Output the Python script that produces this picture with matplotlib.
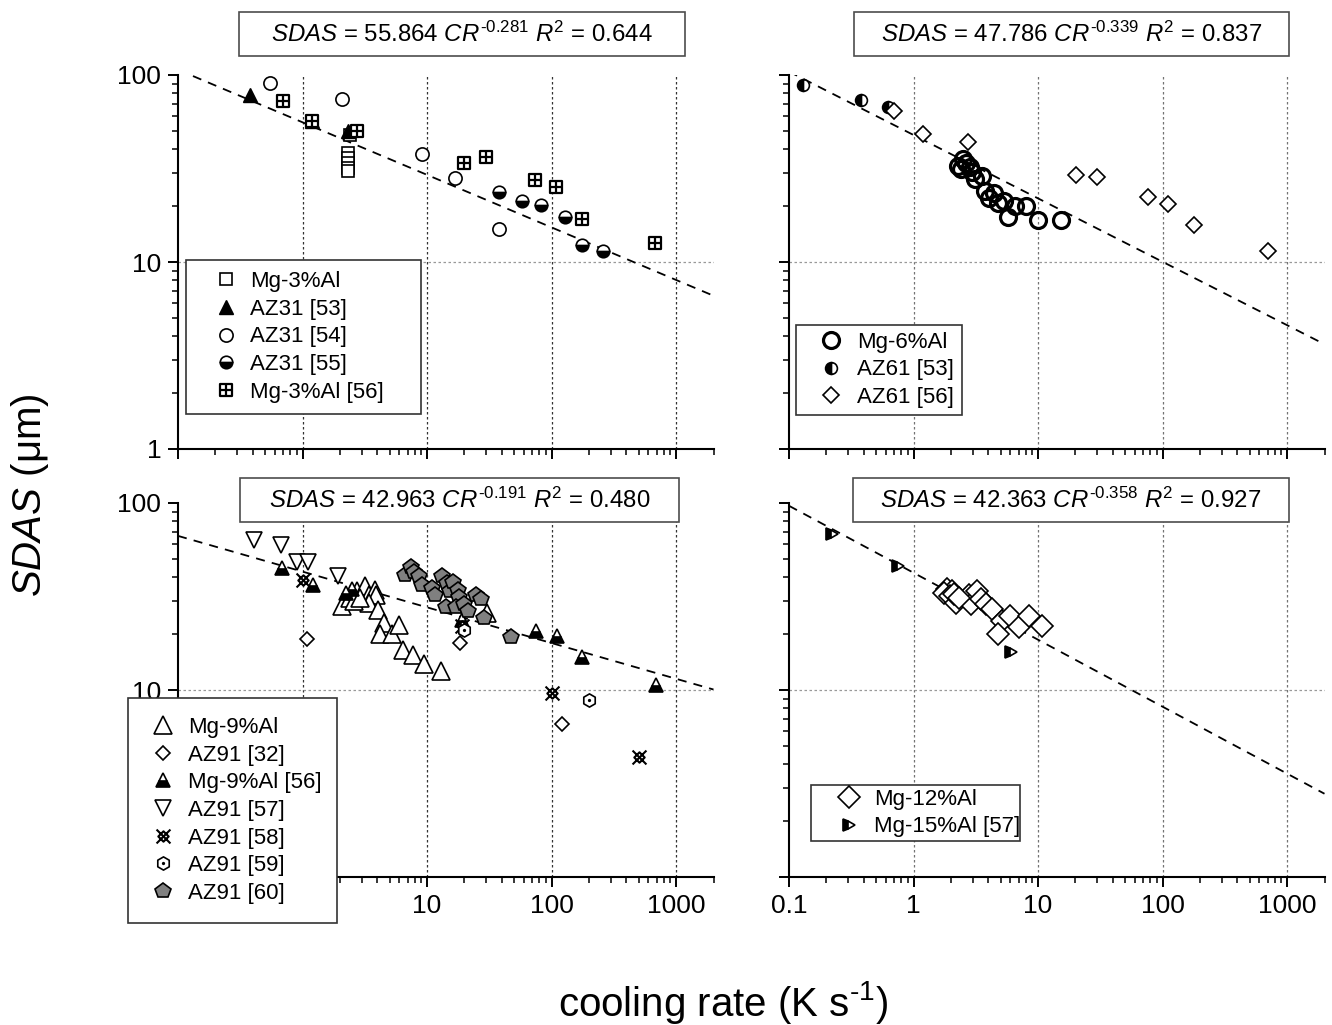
import matplotlib
matplotlib.use('Agg')
import numpy as np
import matplotlib.pyplot as plt
from matplotlib.path import Path
from matplotlib.patches import Rectangle
from matplotlib.ticker import FuncFormatter, NullFormatter, LogLocator

plt.rcParams['font.family'] = ['Liberation Sans', 'DejaVu Sans']
plt.rcParams['mathtext.fontset'] = 'custom'
plt.rcParams['mathtext.rm'] = 'Liberation Sans'
plt.rcParams['mathtext.it'] = 'Liberation Sans:italic'
plt.rcParams['mathtext.bf'] = 'Liberation Sans:bold'

# ---- Mg-3%Al group ----
mg3_cr = [2.39, 2.3, 2.3, 2.3, 2.3, 2.3]
mg3_sdas = [48.0, 38.5, 36.0, 34.0, 32.0, 30.5]
az31_53_cr = [0.38, 1.19, 2.30]
az31_53_sdas = [78.0, 56.5, 50.0]
az31_54_cr = [0.55, 2.06, 9.1, 16.7, 38.0]
az31_54_sdas = [91.0, 74.0, 38.0, 28.0, 15.0]
az31_55_cr = [38.0, 58.0, 82.0, 129.0, 175.0, 258.0]
az31_55_sdas = [23.8, 21.1, 20.1, 17.3, 12.3, 11.5]
mg3_56_cr = [0.70, 1.19, 2.75, 20.0, 30.0, 74.0, 109.0, 177.0, 680.0]
mg3_56_sdas = [72.6, 56.7, 50.2, 33.8, 36.5, 27.5, 25.1, 17.0, 12.7]

# ---- Mg-6%Al group ----
mg6_cr = [2.29, 2.40, 2.50, 2.64, 2.82, 2.97, 3.10, 3.53, 3.78, 4.03,
          4.44, 4.80, 5.29, 5.76, 6.48, 7.97, 10.0, 15.3]
mg6_sdas = [32.7, 31.5, 35.6, 33.8, 32.2, 30.2, 27.8, 28.7, 23.9, 22.0,
            23.4, 20.7, 21.1, 17.4, 19.9, 19.9, 16.7, 16.8]
az61_53_cr = [0.129, 0.379, 0.622]
az61_53_sdas = [88.8, 73.2, 67.2]
az61_56_cr = [0.695, 1.19, 2.74, 20.2, 29.9, 75.9, 111.0, 178.0, 703.0]
az61_56_sdas = [64.0, 48.5, 43.6, 29.3, 28.4, 22.3, 20.3, 15.8, 11.5]

# ---- Mg-9%Al group ----
mg9_cr = [2.07, 2.39, 2.75, 3.17, 3.40, 3.79, 3.92, 3.40, 4.06, 4.52,
          4.22, 5.21, 6.00, 6.44, 7.69, 9.51, 12.9, 30.6, 2.6, 2.9]
mg9_sdas = [28.2, 31.0, 33.7, 35.8, 32.3, 34.4, 32.3, 29.1, 26.8, 22.7,
            20.0, 19.9, 22.3, 16.3, 15.3, 13.8, 12.6, 25.9, 30.0, 31.0]
az91_32_cr = [1.08, 18.5, 122.0]
az91_32_sdas = [18.7, 17.8, 6.6]
mg9_56_cr = [0.69, 1.22, 2.23, 2.5, 19.2, 75.3, 111.0, 177.0, 692.0]
mg9_56_sdas = [45.0, 36.5, 33.0, 34.5, 23.6, 20.7, 19.4, 15.0, 10.6]
az91_57_cr = [0.41, 0.67, 0.90, 1.10, 1.93]
az91_57_sdas = [63.1, 59.6, 48.6, 48.6, 40.6]
az91_58_cr = [1.0, 19.0, 100.0, 503.0]
az91_58_sdas = [38.9, 22.0, 9.6, 4.4]
az91_59_cr = [19.8, 199.0]
az91_59_sdas = [21.0, 8.8]
az91_60_cr = [6.68, 7.43, 7.86, 8.55, 9.06, 11.0, 11.5, 13.1, 14.6, 15.3,
              16.2, 17.6, 18.0, 14.1, 17.1, 20.0, 21.5, 24.8, 27.0, 28.5, 46.9]
az91_60_sdas = [41.4, 45.5, 42.6, 40.6, 36.6, 35.1, 32.3, 40.6, 37.3, 33.7,
                37.7, 34.4, 31.6, 27.9, 27.9, 28.8, 26.6, 32.3, 30.6, 24.2, 19.2]

# ---- Mg-12%Al / Mg-15%Al group ----
mg12_cr = [1.86, 2.04, 1.76, 1.98, 2.21, 2.78, 2.87, 3.21, 3.49, 3.85,
           4.25, 5.17, 6.00, 7.02, 8.53, 10.8, 4.75, 2.1, 2.3]
mg12_sdas = [34.5, 33.7, 33.1, 31.7, 29.2, 32.4, 29.0, 33.7, 30.7, 29.0,
             27.1, 23.3, 24.8, 21.6, 24.9, 22.0, 20.0, 32.5, 31.0]
mg15_57_cr = [0.222, 0.756, 6.08]
mg15_57_sdas = [67.9, 46.2, 15.9]

# power-law fits SDAS = a * CR^b
fit_a = [55.864, 47.786, 42.963, 42.363]
fit_b = [-0.281, -0.339, -0.191, -0.358]
fit_r2 = [0.644, 0.837, 0.480, 0.927]

# custom markers
sq_plus = Path([(-1, -1), (1, -1), (1, 1), (-1, 1), (-1, -1),
                (0, -1), (0, 1), (-1, 0), (1, 0)],
               [Path.MOVETO, Path.LINETO, Path.LINETO, Path.LINETO, Path.CLOSEPOLY,
                Path.MOVETO, Path.LINETO, Path.MOVETO, Path.LINETO])
x_diamond = Path([(0, 0.75), (0.75, 0), (0, -0.75), (-0.75, 0), (0, 0.75),
                  (-1, -1), (1, 1), (-1, 1), (1, -1)],
                 [Path.MOVETO, Path.LINETO, Path.LINETO, Path.LINETO, Path.CLOSEPOLY,
                  Path.MOVETO, Path.LINETO, Path.MOVETO, Path.LINETO])
hex_v = [(np.cos(np.pi / 2 + k * np.pi / 3), np.sin(np.pi / 2 + k * np.pi / 3)) for k in range(6)]
hex_dot = Path.make_compound_path(
    Path(hex_v + [hex_v[0]], [Path.MOVETO] + [Path.LINETO] * 5 + [Path.CLOSEPOLY]),
    Path.circle((0, 0), 0.12))

W, H = 1332, 1025
fig = plt.figure(figsize=(W / 100, H / 100), dpi=100)


def px_rect(x0, y0, x1, y1):
    return [x0 / W, 1 - y1 / H, (x1 - x0) / W, (y1 - y0) / H]


def setup(ax, xlab, ylab, vgrid):
    ax.set_xscale('log')
    ax.set_yscale('log')
    ax.set_xlim(0.1, 2000)
    ax.set_ylim(1, 100)
    for s in ['top', 'right']:
        ax.spines[s].set_visible(False)
    for s in ['left', 'bottom']:
        ax.spines[s].set_linewidth(1.5)
    for axis in [ax.xaxis, ax.yaxis]:
        axis.set_major_locator(LogLocator(base=10, numticks=10))
        axis.set_minor_locator(LogLocator(base=10, subs=np.arange(2, 10), numticks=30))
        axis.set_major_formatter(FuncFormatter(lambda v, p: '%g' % v))
        axis.set_minor_formatter(NullFormatter())
    ax.tick_params(which='major', direction='out', length=7, width=1.4, labelsize=19, pad=5)
    ax.tick_params(which='minor', direction='out', length=4, width=1.1)
    ax.tick_params(labelbottom=xlab, labelleft=ylab)
    for v in [1, 10, 100, 1000]:
        ax.axvline(v, color=vgrid, ls=(0, (2, 2)), lw=0.9, zorder=0)
    ax.axhline(10, color='0.6', ls=(0, (2, 2)), lw=0.9, zorder=0)


def fit_line(ax, a, b):
    cr = np.logspace(-1, np.log10(2000), 200)
    ax.plot(cr, a * cr ** b, color='k', ls=(0, (5, 4)), lw=1.3, zorder=1)


def eq_box(x0, y0, x1, y1, a, b, r2):
    fig.add_artist(Rectangle((x0 / W, 1 - y1 / H), (x1 - x0) / W, (y1 - y0) / H,
                             transform=fig.transFigure, fc='white', ec='0.3', lw=1.2, zorder=4))
    expo = ('%.3f' % b).replace('-', '\u2010')
    txt = r'$\mathit{SDAS}$ = %.3f $\mathit{CR}^{%s}$ $\mathit{R}^{2}$ = %.3f' % (a, expo, r2)
    fig.text((x0 + x1) / 2 / W, 1 - (y0 + y1) / 2 / H, txt, ha='center', va='center',
             fontsize=17.3, zorder=5)


def add_legend(ax, x0, y0, x1, marker_x, text_x, bp, fs=16):
    fpx = fs * 100 / 72
    pad = bp * fpx
    hl = 2 * (marker_x - x0 - pad)
    htp = text_x - (x0 + pad + hl)
    leg = ax.legend(loc='upper left', bbox_to_anchor=((x0) / W, 1 - y0 / H - 0.01, (x1 - x0) / W, 0.01),
                    bbox_transform=fig.transFigure, mode='expand', borderaxespad=0,
                    fontsize=fs, fancybox=False, edgecolor='0.2', framealpha=1,
                    handlelength=hl / fpx, handletextpad=htp / fpx, borderpad=bp,
                    labelspacing=0.3, numpoints=1)
    leg.get_frame().set_linewidth(1.2)
    leg.set_zorder(6)
    return leg


open_kw = dict(ls='none', mfc='white', mec='k', mew=1.2)

# top left: Mg-3%Al
ax1 = fig.add_axes(px_rect(178, 75, 713.5, 449))
setup(ax1, False, True, '0.2')
fit_line(ax1, fit_a[0], fit_b[0])
ax1.plot(mg3_cr, mg3_sdas, marker='s', ms=8.5, label='Mg-3%Al', **open_kw)
ax1.plot(az31_53_cr, az31_53_sdas, marker='^', ms=10, ls='none', color='k', label='AZ31 [53]')
ax1.plot(az31_54_cr, az31_54_sdas, marker='o', ms=9.5, label='AZ31 [54]', **open_kw)
ax1.plot(az31_55_cr, az31_55_sdas, marker='o', ms=9, ls='none', mfc='k', mfcalt='white',
         fillstyle='bottom', mec='k', mew=1.2, label='AZ31 [55]')
ax1.plot(mg3_56_cr, mg3_56_sdas, marker=sq_plus, ms=8, ls='none', mfc='white', mec='k',
         mew=1.6, label='Mg-3%Al [56]')
add_legend(ax1, 186, 260, 421, 226, 250, 0.5)

# top right: Mg-6%Al
ax2 = fig.add_axes(px_rect(789, 75, 1324.5, 449))
setup(ax2, False, False, '0.45')
fit_line(ax2, fit_a[1], fit_b[1])
ax2.plot(mg6_cr, mg6_sdas, marker='o', ms=11.5, ls='none', mfc='none', mec='k', mew=2.3,
         label='Mg-6%Al')
ax2.plot(az61_53_cr, az61_53_sdas, marker='o', ms=8.5, ls='none', mfc='k', mfcalt='white',
         fillstyle='left', mec='k', mew=1.2, label='AZ61 [53]')
ax2.plot(az61_56_cr, az61_56_sdas, marker='D', ms=8, label='AZ61 [56]', **open_kw)
add_legend(ax2, 796, 325, 962, 831, 857, 0.3)

# bottom left: Mg-9%Al
ax3 = fig.add_axes(px_rect(178, 503, 713.5, 877))
setup(ax3, True, True, '0.2')
fit_line(ax3, fit_a[2], fit_b[2])
ax3.plot(mg9_cr, mg9_sdas, marker='^', ms=13, label='Mg-9%Al', **open_kw)
ax3.plot(az91_32_cr, az91_32_sdas, marker='D', ms=6.8, label='AZ91 [32]', **open_kw)
ax3.plot(mg9_56_cr, mg9_56_sdas, marker='^', ms=9.5, ls='none', mfc='k', mfcalt='white',
         fillstyle='bottom', mec='k', mew=1.2, label='Mg-9%Al [56]')
ax3.plot(az91_57_cr, az91_57_sdas, marker='v', ms=11, label='AZ91 [57]', **open_kw)
ax3.plot(az91_58_cr, az91_58_sdas, marker=x_diamond, ms=10, ls='none', mfc='white', mec='k',
         mew=1.5, label='AZ91 [58]')
ax3.plot(az91_59_cr, az91_59_sdas, marker=hex_dot, ms=9.5, label='AZ91 [59]', **open_kw)
ax3.plot(az91_60_cr, az91_60_sdas, marker='p', ms=11.5, ls='none', mfc='0.5', mec='k',
         mew=1.2, label='AZ91 [60]')
add_legend(ax3, 128, 698, 337, 163, 188, 0.85)

# bottom right: Mg-12%Al / Mg-15%Al
ax4 = fig.add_axes(px_rect(789, 503, 1324.5, 877))
setup(ax4, True, False, '0.45')
fit_line(ax4, fit_a[3], fit_b[3])
ax4.plot(mg12_cr, mg12_sdas, marker='D', ms=11, label='Mg-12%Al', **open_kw)
ax4.plot(mg15_57_cr, mg15_57_sdas, marker='>', ms=9, ls='none', mfc='k', mfcalt='white',
         fillstyle='left', mec='k', mew=1.2, label='Mg-15%Al [57]')
add_legend(ax4, 811, 785, 1020, 849, 874, 0.17)

# fit equations above each panel
eq_box(239, 12, 685, 56, fit_a[0], fit_b[0], fit_r2[0])
eq_box(854, 12, 1289, 56, fit_a[1], fit_b[1], fit_r2[1])
eq_box(240, 478, 679, 522, fit_a[2], fit_b[2], fit_r2[2])
eq_box(853, 478, 1289, 522, fit_a[3], fit_b[3], fit_r2[3])

fig.text(723 / W, 1 - 1003 / H, 'cooling rate (K s$^{\u20101}$)', ha='center', va='center', fontsize=29)
fig.text(30 / W, 1 - 495 / H, r'$\mathit{SDAS}$ (μm)', ha='center', va='center',
         rotation=90, fontsize=29)

fig.savefig('out.png', dpi=100)
